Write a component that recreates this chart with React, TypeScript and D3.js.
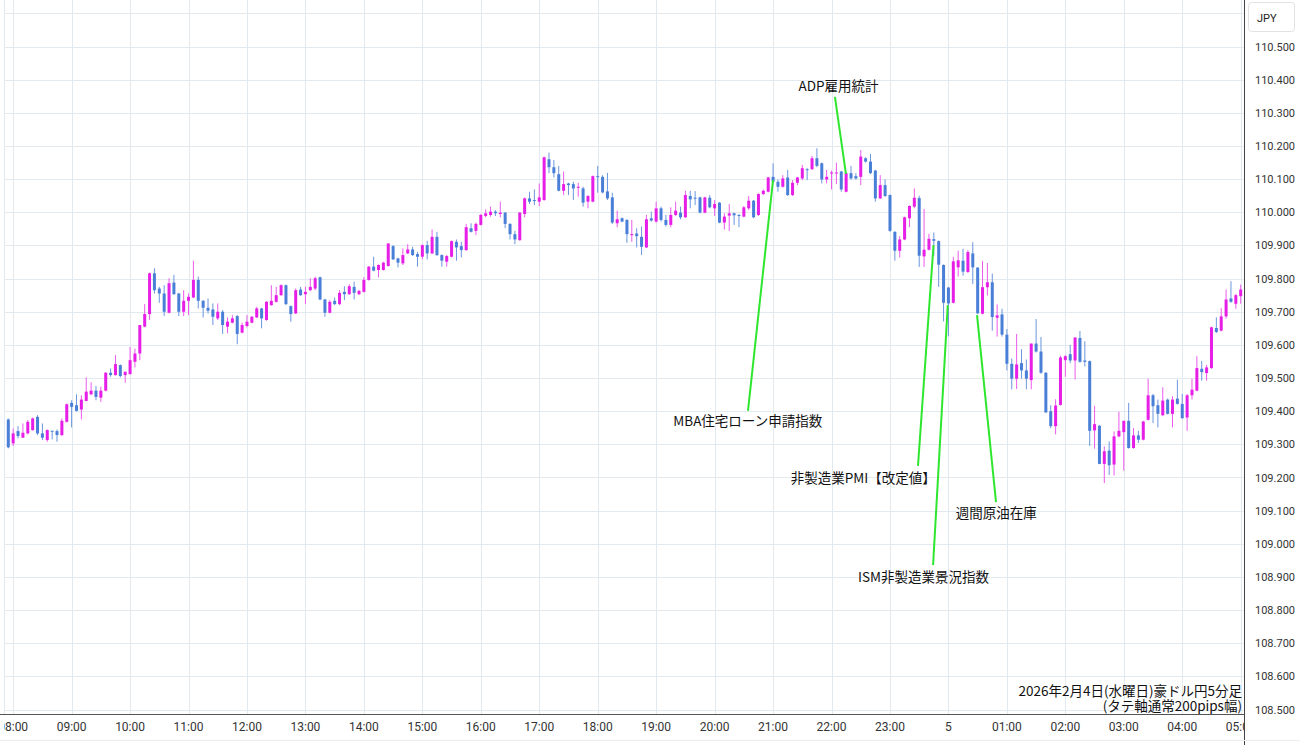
import React from 'react';
import * as d3 from 'd3';

// ---- DATA (5-minute bars, AUD/JPY, 2026-02-04 07:55 → 2026-02-05 05:00) ----
const opens = [
109.375,109.303,109.340,109.320,109.333,109.343,109.383,109.333,109.313,109.341,
109.340,109.328,109.368,109.425,109.418,109.405,109.431,109.451,109.462,109.441,
109.462,109.516,109.509,109.539,109.509,109.512,109.549,109.574,109.655,109.693,
109.816,109.770,109.755,109.697,109.788,109.755,109.700,109.733,109.743,109.796,
109.733,109.712,109.707,109.680,109.700,109.655,109.667,109.687,109.637,109.657,
109.667,109.683,109.710,109.675,109.720,109.730,109.750,109.780,109.717,109.695,
109.767,109.753,109.765,109.770,109.804,109.737,109.697,109.733,109.723,109.760,
109.753,109.775,109.753,109.760,109.796,109.836,109.826,109.826,109.838,109.898,
109.861,109.846,109.876,109.888,109.874,109.866,109.901,109.876,109.926,109.871,
109.851,109.866,109.911,109.898,109.886,109.952,109.944,109.962,109.989,109.992,
110.002,109.995,109.999,109.965,109.934,109.916,109.995,110.042,110.037,110.032,
110.037,110.160,110.136,110.115,110.065,110.087,110.085,110.075,110.072,110.032,
110.032,110.109,110.107,110.063,110.045,109.967,109.982,109.977,109.931,109.936,
109.926,109.894,109.982,109.972,110.012,109.977,109.962,109.992,109.999,109.985,
110.049,110.044,110.045,109.999,110.044,110.012,110.029,109.969,109.990,109.997,
109.992,109.987,110.012,110.035,109.992,110.055,110.062,110.107,110.092,110.077,
110.105,110.052,110.089,110.102,110.130,110.130,110.163,110.148,110.099,110.118,
110.118,110.123,110.062,110.118,110.109,110.107,110.163,110.153,110.126,110.042,
110.082,110.052,109.941,109.884,109.918,109.982,110.017,110.043,109.867,109.887,
109.919,109.913,109.841,109.773,109.727,109.834,109.854,109.820,109.876,109.833,
109.694,109.774,109.789,109.682,109.692,109.631,109.543,109.498,109.545,109.523,
109.494,109.604,109.580,109.516,109.400,109.355,109.419,109.554,109.572,109.553,
109.621,109.553,109.551,109.342,109.356,109.241,109.281,109.239,109.324,109.337,
109.371,109.289,109.327,109.314,109.374,109.448,109.418,109.388,109.435,109.392,
109.438,109.422,109.381,109.448,109.462,109.528,109.515,109.530,109.651,109.643,
109.686,109.740,109.724,109.747
];
const highs = [
109.378,109.348,109.355,109.363,109.373,109.381,109.388,109.363,109.345,109.341,
109.345,109.378,109.423,109.433,109.451,109.448,109.502,109.487,109.476,109.474,
109.518,109.529,109.569,109.541,109.519,109.594,109.589,109.660,109.723,109.818,
109.831,109.775,109.780,109.801,109.811,109.757,109.765,109.755,109.854,109.806,
109.735,109.740,109.725,109.725,109.705,109.683,109.690,109.690,109.667,109.690,
109.687,109.715,109.712,109.732,109.780,109.775,109.783,109.782,109.719,109.770,
109.775,109.775,109.801,109.806,109.806,109.739,109.735,109.743,109.765,109.777,
109.783,109.791,109.766,109.804,109.838,109.866,109.843,109.851,109.906,109.901,
109.863,109.891,109.904,109.896,109.881,109.903,109.914,109.948,109.941,109.873,
109.871,109.915,109.918,109.911,109.965,109.967,109.969,109.995,110.009,110.017,
110.007,110.032,110.001,109.967,109.944,110.001,110.045,110.062,110.069,110.087,
110.168,110.180,110.158,110.140,110.123,110.089,110.092,110.089,110.077,110.052,
110.111,110.140,110.112,110.119,110.059,110.005,109.985,109.979,109.977,109.952,
109.957,109.992,110.002,110.032,110.017,109.992,110.015,110.032,110.017,110.065,
110.065,110.064,110.047,110.047,110.052,110.037,110.031,109.997,110.025,109.999,
109.994,110.019,110.049,110.037,110.057,110.069,110.107,110.148,110.099,110.112,
110.128,110.097,110.107,110.143,110.133,110.170,110.193,110.150,110.128,110.126,
110.150,110.125,110.120,110.140,110.118,110.188,110.166,110.176,110.128,110.112,
110.099,110.054,109.943,109.928,109.987,110.021,110.072,110.050,110.010,109.935,
109.939,109.915,109.843,109.775,109.866,109.884,109.890,109.886,109.910,109.835,
109.853,109.847,109.815,109.722,109.709,109.648,109.559,109.633,109.587,109.556,
109.604,109.678,109.624,109.518,109.418,109.436,109.567,109.569,109.600,109.624,
109.642,109.611,109.553,109.416,109.358,109.294,109.309,109.339,109.398,109.371,
109.425,109.349,109.341,109.371,109.498,109.452,109.435,109.472,109.438,109.445,
109.495,109.452,109.452,109.498,109.566,109.552,109.540,109.655,109.683,109.711,
109.767,109.792,109.754,109.782
];
const lows = [
109.288,109.295,109.318,109.320,109.330,109.341,109.328,109.313,109.308,109.315,
109.308,109.325,109.366,109.351,109.399,109.375,109.430,109.448,109.433,109.428,
109.460,109.504,109.507,109.502,109.486,109.510,109.532,109.554,109.653,109.675,
109.755,109.727,109.687,109.695,109.751,109.687,109.687,109.690,109.741,109.710,
109.683,109.695,109.660,109.675,109.633,109.635,109.665,109.602,109.635,109.653,
109.665,109.681,109.650,109.673,109.718,109.728,109.748,109.720,109.670,109.693,
109.748,109.723,109.763,109.765,109.735,109.685,109.695,109.720,109.720,109.735,
109.751,109.737,109.750,109.758,109.794,109.822,109.804,109.824,109.836,109.856,
109.834,109.841,109.874,109.868,109.836,109.858,109.858,109.874,109.868,109.836,
109.836,109.864,109.854,109.864,109.884,109.939,109.931,109.960,109.985,109.987,
109.989,109.985,109.952,109.918,109.904,109.914,109.985,110.025,110.022,110.019,
110.035,110.118,110.105,110.063,110.052,110.052,110.037,110.047,110.017,110.012,
110.030,110.059,110.057,110.037,109.965,109.955,109.970,109.908,109.911,109.894,
109.871,109.892,109.972,109.969,109.972,109.957,109.955,109.989,109.979,109.983,
110.012,110.022,109.997,109.997,110.012,109.989,109.967,109.948,109.944,109.962,
109.955,109.985,110.007,109.982,109.989,110.052,110.060,110.087,110.062,110.075,
110.049,110.049,110.082,110.097,110.097,110.128,110.136,110.087,110.087,110.069,
110.085,110.062,110.060,110.099,110.099,110.082,110.150,110.116,110.032,110.040,
110.047,109.941,109.854,109.864,109.916,109.955,110.012,109.835,109.835,109.885,
109.868,109.775,109.671,109.626,109.725,109.806,109.809,109.817,109.784,109.694,
109.692,109.749,109.643,109.625,109.625,109.523,109.466,109.467,109.498,109.466,
109.466,109.577,109.513,109.396,109.349,109.330,109.417,109.504,109.545,109.496,
109.546,109.535,109.295,109.287,109.240,109.183,109.208,109.206,109.321,109.221,
109.287,109.287,109.304,109.312,109.372,109.364,109.351,109.385,109.390,109.351,
109.420,109.377,109.341,109.435,109.460,109.492,109.492,109.528,109.636,109.641,
109.679,109.727,109.709,109.724
];
const closes = [
109.291,109.333,109.325,109.335,109.368,109.378,109.333,109.320,109.343,109.338,
109.328,109.371,109.421,109.413,109.401,109.435,109.459,109.462,109.443,109.462,
109.516,109.509,109.542,109.506,109.519,109.554,109.574,109.660,109.693,109.816,
109.765,109.755,109.700,109.786,109.753,109.700,109.733,109.745,109.796,109.733,
109.712,109.703,109.685,109.700,109.660,109.670,109.680,109.633,109.660,109.670,
109.685,109.710,109.680,109.730,109.733,109.750,109.780,109.723,109.693,109.765,
109.750,109.760,109.775,109.801,109.737,109.697,109.730,109.723,109.757,109.753,
109.777,109.757,109.763,109.796,109.836,109.824,109.841,109.848,109.906,109.858,
109.848,109.871,109.888,109.871,109.866,109.901,109.876,109.926,109.871,109.854,
109.868,109.913,109.894,109.886,109.955,109.941,109.965,109.992,109.997,110.002,
109.997,109.999,109.965,109.934,109.918,109.999,110.042,110.032,110.035,110.045,
110.166,110.136,110.118,110.065,110.085,110.082,110.072,110.077,110.029,110.049,
110.109,110.107,110.060,110.042,109.969,109.979,109.972,109.934,109.934,109.928,
109.896,109.979,109.975,110.012,109.977,109.962,109.992,110.005,109.985,110.052,
110.039,110.042,109.999,110.045,110.015,110.025,109.969,109.987,109.997,109.991,
109.989,110.015,110.035,109.985,110.055,110.065,110.105,110.092,110.077,110.102,
110.052,110.089,110.105,110.133,110.128,110.163,110.140,110.099,110.107,110.120,
110.120,110.069,110.118,110.102,110.102,110.168,110.153,110.118,110.042,110.082,
110.049,109.944,109.884,109.918,109.985,110.019,110.044,109.869,109.887,109.920,
109.914,109.842,109.727,109.725,109.852,109.855,109.821,109.880,109.834,109.695,
109.774,109.789,109.684,109.689,109.631,109.543,109.498,109.541,109.523,109.498,
109.604,109.580,109.516,109.396,109.355,109.417,109.562,109.566,109.553,109.622,
109.549,109.549,109.341,109.361,109.241,109.279,109.237,109.324,109.341,109.371,
109.289,109.327,109.314,109.369,109.448,109.415,109.392,109.432,109.392,109.435,
109.422,109.379,109.448,109.465,109.530,109.518,109.532,109.653,109.639,109.686,
109.737,109.730,109.750,109.767
];

const firstBarUtc = '2026-02-04T07:55:00Z';
const lastBarUtc = '2026-02-05T05:00:00Z';
const barMinutes = 5;

const hourTicksUtc = [
  '2026-02-04T08:00:00Z','2026-02-04T09:00:00Z','2026-02-04T10:00:00Z','2026-02-04T11:00:00Z',
  '2026-02-04T12:00:00Z','2026-02-04T13:00:00Z','2026-02-04T14:00:00Z','2026-02-04T15:00:00Z',
  '2026-02-04T16:00:00Z','2026-02-04T17:00:00Z','2026-02-04T18:00:00Z','2026-02-04T19:00:00Z',
  '2026-02-04T20:00:00Z','2026-02-04T21:00:00Z','2026-02-04T22:00:00Z','2026-02-04T23:00:00Z',
  '2026-02-05T00:00:00Z','2026-02-05T01:00:00Z','2026-02-05T02:00:00Z','2026-02-05T03:00:00Z',
  '2026-02-05T04:00:00Z','2026-02-05T05:00:00Z'
];
const hourTickLabels = [
  '08:00','09:00','10:00','11:00','12:00','13:00','14:00','15:00','16:00','17:00','18:00',
  '19:00','20:00','21:00','22:00','23:00','5','01:00','02:00','03:00','04:00','05:00'
];

const priceTicks = [108.5,108.6,108.7,108.8,108.9,109.0,109.1,109.2,109.3,109.4,109.5,
  109.6,109.7,109.8,109.9,110.0,110.1,110.2,110.3,110.4,110.5];
const gridOnlyPrices = [110.6];

const currencyLabel = 'JPY';
const titleLines = ['2026年2月4日(水曜日)豪ドル円5分足', '(タテ軸通常200pips幅)'];

// annotations: label anchor (bar position, price) and leader line (bar,price) → (bar,price)
const annotationTexts = ['ADP雇用統計','MBA住宅ローン申請指数','非製造業PMI【改定値】','週間原油在庫','ISM非製造業景況指数'];
const annotationLabelAt = [[170.45,110.366],[151.8,109.355],[175.5,109.183],[202.8,109.078],[187.9,108.886]];
const annotationLineFrom = [[169.7,110.348],[151.85,109.401],[186.75,109.235],[202.77,109.126],[189.85,108.936]];
const annotationLineTo = [[171.96,110.116],[156.99,110.097],[189.94,109.901],[198.87,109.690],[192.86,109.720]];

// ---- STYLE ----
const W = 1300, H = 745;
const UP = '#e61ee6';
const DOWN = '#4a7fd8';
const UP_WICK = '#ec5aec';
const DOWN_WICK = '#6a96de';
const GRID = '#e2e9ef';
const GREEN = '#2fe62f';
const AXIS_X = 1244.5;
const AXIS_Y = 714.5;
const LABEL_FONT = 'Roboto, "Liberation Sans", Arial, sans-serif';
const CJK_FONT = '"Noto Sans CJK JP", "Noto Sans", sans-serif';

export default function App() {
  const t0 = new Date(firstBarUtc).getTime();
  const barTime = (i: number) => new Date(t0 + i * barMinutes * 60000);
  const x = d3.scaleUtc().domain([new Date(firstBarUtc), new Date(lastBarUtc)]).range([8.3, 1240.7]);
  const y = d3.scaleLinear().domain([108.5, 110.5]).range([709.55, 46.55]);
  const xb = (i: number) => x(barTime(i));
  const bw = 3;

  const candles = opens.map((o, i) => {
    const c = closes[i];
    const up = c >= o;
    const cx = xb(i);
    const top = y(Math.max(o, c));
    const bot = y(Math.min(o, c));
    return (
      <g key={i}>
        <line x1={cx} x2={cx} y1={y(highs[i])} y2={y(lows[i])} stroke={up ? UP_WICK : DOWN_WICK} strokeWidth={1} />
        <rect x={cx - bw / 2} y={top} width={bw} height={Math.max(1, bot - top)} fill={up ? UP : DOWN} />
      </g>
    );
  });

  return (
    <svg width={W} height={H} style={{ position: 'absolute', left: 0, top: 0, background: '#fff' }}
      fontFamily={LABEL_FONT}>
      <defs>
        <clipPath id="plot"><rect x={4} y={0} width={AXIS_X - 4} height={AXIS_Y} /></clipPath>
        <clipPath id="xlab"><rect x={4} y={AXIS_Y} width={AXIS_X - 4} height={H - AXIS_Y} /></clipPath>
      </defs>
      <rect x={0} y={0} width={W} height={H} fill="#fff" />
      <g clipPath="url(#plot)">
        {[...priceTicks, ...gridOnlyPrices].map((p, i) => (
          <line key={'h' + i} x1={0} x2={AXIS_X} y1={Math.round(y(p)) + 0.5} y2={Math.round(y(p)) + 0.5} stroke={GRID} />
        ))}
        {hourTicksUtc.map((t, i) => (
          <line key={'v' + i} x1={Math.round(x(new Date(t))) + 0.5} x2={Math.round(x(new Date(t))) + 0.5} y1={0} y2={AXIS_Y} stroke={GRID} />
        ))}
        <line x1={4.5} x2={4.5} y1={0} y2={AXIS_Y} stroke={GRID} />
        {candles}
        {annotationTexts.map((t, i) => (
          <line key={'g' + i}
            x1={xb(annotationLineFrom[i][0])} y1={y(annotationLineFrom[i][1])}
            x2={xb(annotationLineTo[i][0])} y2={y(annotationLineTo[i][1])}
            stroke={GREEN} strokeWidth={2} />
        ))}
        {annotationTexts.map((t, i) => (
          <text key={'a' + i} x={xb(annotationLabelAt[i][0])} y={y(annotationLabelAt[i][1])}
            textAnchor="middle" fontSize={13.5} fontFamily={CJK_FONT} fill="#111">{t}</text>
        ))}
        {titleLines.map((t, i) => (
          <text key={'t' + i} x={1242} y={696 + i * 15} textAnchor="end" fontSize={13.5}
            fontFamily={CJK_FONT} fill="#111">{t}</text>
        ))}
      </g>
      {/* axes */}
      <line x1={0} x2={AXIS_X} y1={AXIS_Y} y2={AXIS_Y} stroke="#555" />
      <line x1={AXIS_X} x2={AXIS_X} y1={0} y2={H} stroke="#444" />
      <line x1={0} x2={W} y1={740.5} y2={740.5} stroke="#ececec" />
      <g clipPath="url(#xlab)">
        {hourTicksUtc.map((t, i) => (
          <text key={'xl' + i} x={x(new Date(t))} y={731} textAnchor="middle" fontSize={12} fill="#333">{hourTickLabels[i]}</text>
        ))}
      </g>
      {priceTicks.map((p, i) => (
        <text key={'yl' + i} x={1255} y={y(p) + 4} fontSize={11} fill="#333">{p.toFixed(3)}</text>
      ))}
      <rect x={1248.5} y={2.5} width={46} height={29} rx={3} fill="#fff" stroke="#e2e2e2" />
      <text x={1257} y={21.5} fontSize={11} fill="#222">{currencyLabel}</text>
    </svg>
  );
}
